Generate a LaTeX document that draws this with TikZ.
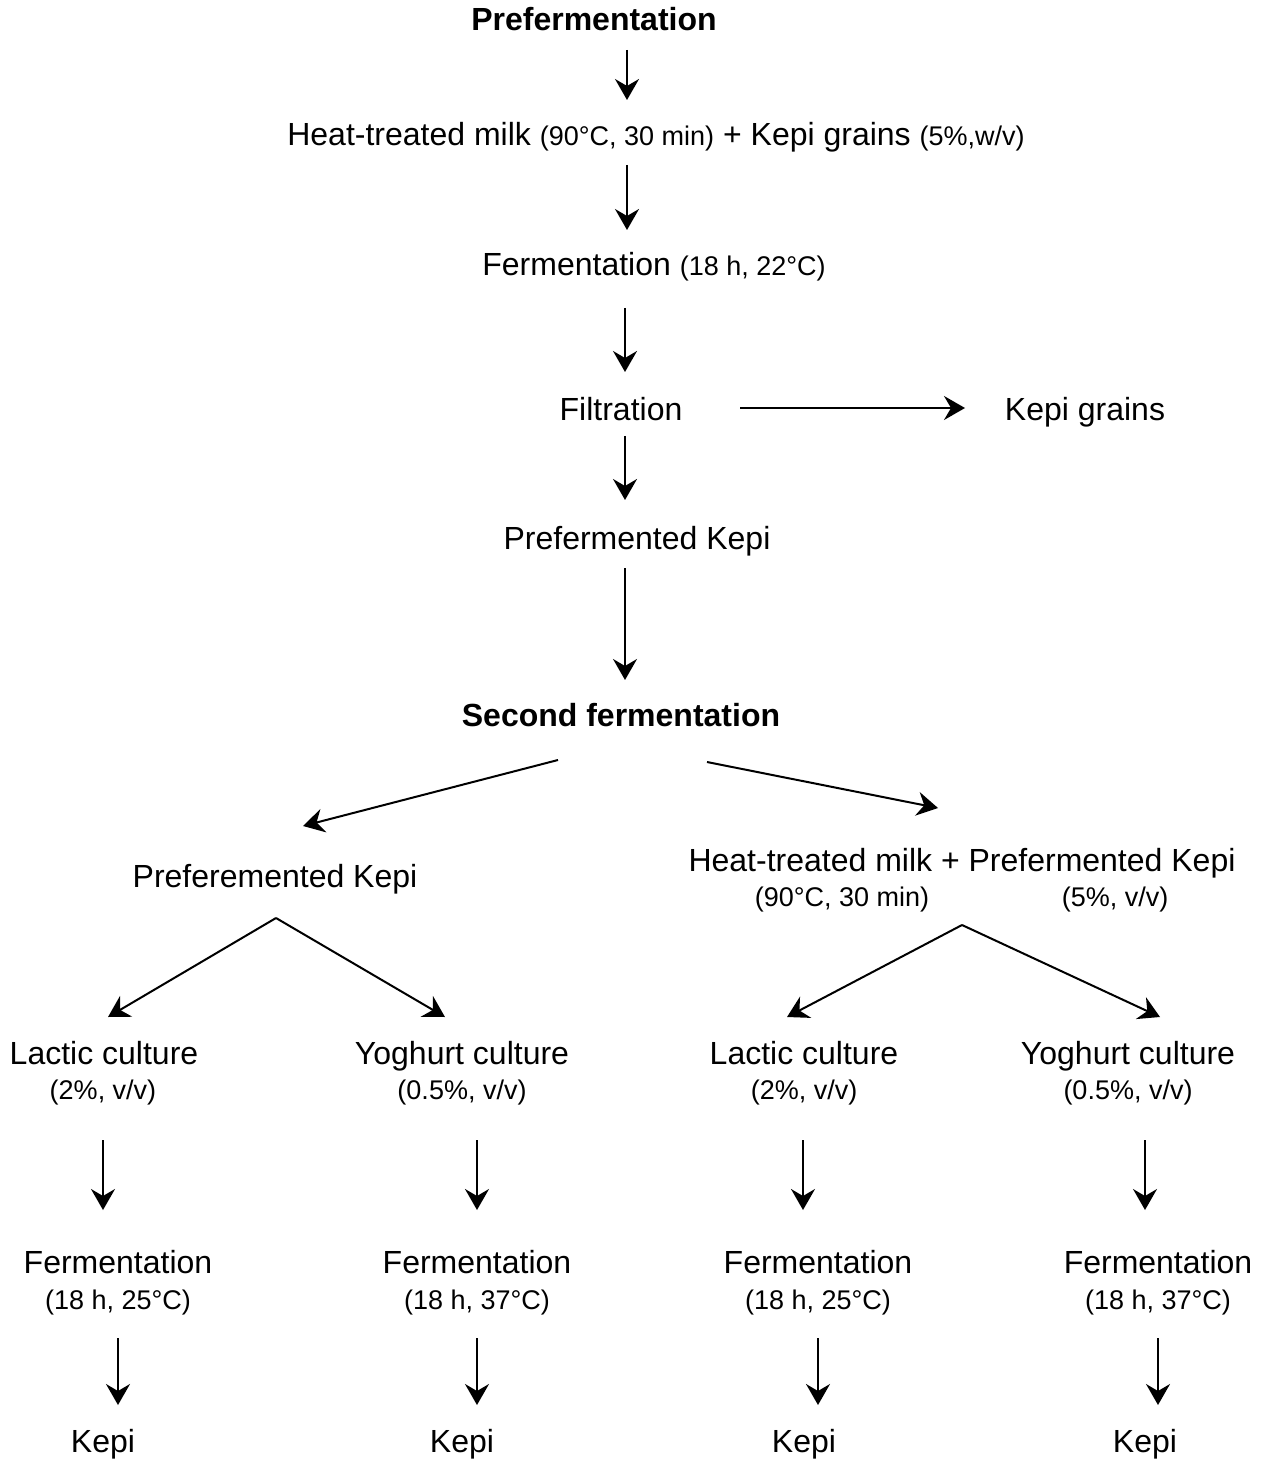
\documentclass[tikz,border=0pt]{standalone}
\usepackage{fontspec}
\setmainfont{Liberation Sans}
\usetikzlibrary{calc,arrows.meta}
\begin{document}
\begin{tikzpicture}[x=0.5pt,y=-0.5pt,
  lbl/.style={inner sep=0pt,anchor=center,font=\fontsize{16pt}{18pt}\selectfont,text height=1.1em,text depth=0pt},
  lblb/.style={lbl,font=\fontsize{16pt}{18pt}\selectfont\bfseries},
  sml/.style={inner sep=0pt,anchor=center,font=\fontsize{13.5pt}{15pt}\selectfont,text height=1.1em,text depth=0pt},
  arr/.style={line width=1pt,-{Stealth[length=10.5pt,width=12pt,inset=3.5pt]}}]
\newcommand{\sm}[1]{{\fontsize{13.5pt}{15pt}\selectfont #1}}
\useasboundingbox (0,0) rectangle (1268,1459);
% nodes
\node[lblb] (pre) at (594,20) {Prefermentation};
\node[lbl] (heat) at (656,135) {Heat-treated milk \sm{(90°C, 30 min)} + Kepi grains \sm{(5\%,w/v)}};
\node[lbl] (ferm) at (654,265) {Fermentation \sm{(18 h, 22°C)}};
\node[lbl] (filt) at (621,410) {Filtration};
\node[lbl] (grains) at (1085,410) {Kepi grains};
\node[lbl] (pk) at (637,538) {Prefermented Kepi};
\node[lblb] (sec) at (621,715) {Second fermentation};
\node[lbl] (lpk) at (275,876) {Preferemented Kepi};
\node[lbl] (rh) at (962,860) {Heat-treated milk + Prefermented Kepi};
\node[sml] (rhA) at (842,895) {(90°C, 30 min)};
\node[sml] (rhB) at (1115,895) {(5\%, v/v)};
\node[lbl] (lac1) at (104,1053) {Lactic culture};
\node[sml] (lac1c) at (103,1088) {(2\%, v/v)};
\node[lbl] (yog1) at (462,1053) {Yoghurt culture};
\node[sml] (yog1c) at (462,1088) {(0.5\%, v/v)};
\node[lbl] (lac2) at (804,1053) {Lactic culture};
\node[sml] (lac2c) at (804,1088) {(2\%, v/v)};
\node[lbl] (yog2) at (1128,1053) {Yoghurt culture};
\node[sml] (yog2c) at (1128,1088) {(0.5\%, v/v)};
\node[lbl] (fer1) at (118,1262) {Fermentation};
\node[sml] (fer1c) at (118,1298) {(18 h, 25°C)};
\node[lbl] (fer2) at (477,1262) {Fermentation};
\node[sml] (fer2c) at (477,1298) {(18 h, 37°C)};
\node[lbl] (fer3) at (818,1262) {Fermentation};
\node[sml] (fer3c) at (818,1298) {(18 h, 25°C)};
\node[lbl] (fer4) at (1158,1262) {Fermentation};
\node[sml] (fer4c) at (1158,1298) {(18 h, 37°C)};
\node[lbl] (k1) at (103,1441) {Kepi};
\node[lbl] (k2) at (462,1441) {Kepi};
\node[lbl] (k3) at (804,1441) {Kepi};
\node[lbl] (k4) at (1145,1441) {Kepi};
% connectors
\draw[arr] ($(pre)+(33,30)$) -- ($(heat)+(-29,-35)$);
\draw[arr] ($(heat)+(-29,30)$) -- ($(ferm)+(-27,-35)$);
\draw[arr] ($(ferm)+(-29,43)$) -- ($(filt)+(4,-38)$);
\draw[arr] ($(filt)+(119,-2)$) -- ($(grains)+(-120,-2)$);
\draw[arr] ($(filt)+(4,26)$) -- ($(pk)+(-12,-38)$);
\draw[arr] ($(pk)+(-12,30)$) -- ($(sec)+(4,-35)$);
\draw[arr] ($(sec)+(-63,45)$) -- ($(lpk)+(28,-50)$);
\draw[arr] ($(sec)+(86,47)$) -- ($(rh)+(-24,-52)$);
\draw[arr] ($(lpk)+(1,42)$) -- ($(lac1)+(4,-36)$);
\draw[arr] ($(lpk)+(1,42)$) -- ($(yog1)+(-17,-36)$);
\draw[arr] ($(rh)+(0,65)$) -- ($(lac2)+(-17,-36)$);
\draw[arr] ($(rh)+(0,65)$) -- ($(yog2)+(32,-36)$);
\draw[arr] ($(lac1)+(-1,87)$) -- ($(fer1)+(-15,-52)$);
\draw[arr] ($(yog1)+(15,87)$) -- ($(fer2)+(0,-52)$);
\draw[arr] ($(lac2)+(-1,87)$) -- ($(fer3)+(-15,-52)$);
\draw[arr] ($(yog2)+(17,87)$) -- ($(fer4)+(-13,-52)$);
\draw[arr] ($(fer1)+(0,76)$) -- ($(k1)+(15,-36)$);
\draw[arr] ($(fer2)+(0,76)$) -- ($(k2)+(15,-36)$);
\draw[arr] ($(fer3)+(0,76)$) -- ($(k3)+(14,-36)$);
\draw[arr] ($(fer4)+(0,76)$) -- ($(k4)+(13,-36)$);
\end{tikzpicture}
\end{document}
